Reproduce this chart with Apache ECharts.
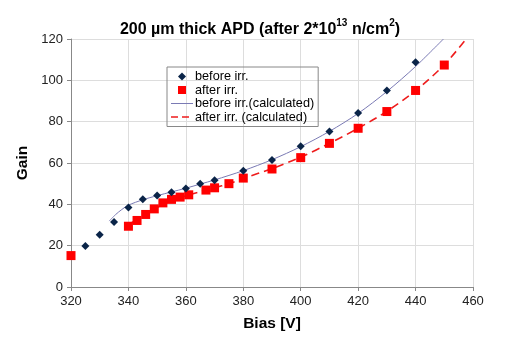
<!DOCTYPE html>
<html>
<head>
<meta charset="utf-8">
<script src="https://cdn.jsdelivr.net/npm/echarts@6/dist/echarts.min.js"></script>
<style>
  html, body { margin: 0; padding: 0; background: #fff; }
  #main { width: 510px; height: 354px; }
</style>
</head>
<body>
<div id="main"></div>
<script>
// measured points
var beforeBias = [325, 330, 335, 340, 345, 350, 355, 360, 365, 370, 380, 390, 400, 410, 420, 430, 440];
var beforeGain = [19.8, 25.3, 31.5, 38.5, 42.4, 44.3, 45.9, 47.7, 49.9, 51.7, 56.3, 61.4, 68.1, 75.3, 84.2, 95.1, 108.8];

var afterBias = [320, 340, 343, 346, 349, 352, 355, 358, 361, 367, 370, 375, 380, 390, 400, 410, 420, 430, 440, 450];
var afterGain = [15.2, 29.4, 32.2, 35.1, 37.8, 40.7, 42.4, 43.5, 44.6, 46.9, 48.0, 50.0, 52.7, 57.1, 62.6, 69.5, 76.8, 84.9, 95.1, 107.4];

// calculated curves
var beforeCalcBias = [333.3, 335.5, 337.7, 340, 345, 350, 355, 360, 365, 370, 380, 390, 400, 410, 420, 430, 440, 449.7];
var beforeCalcGain = [31.9, 35, 37.5, 39.6, 42.2, 44.2, 46, 47.8, 49.8, 51.8, 56.3, 61.6, 67.9, 75.3, 84, 94.6, 106.7, 120];

var afterCalcBias = [341, 345, 350, 355, 360, 365, 370, 375, 380, 390, 400, 410, 420, 430, 440, 450, 457.6];
var afterCalcGain = [31, 34.3, 38.5, 41.8, 44.2, 46.1, 48, 50, 52.5, 57.3, 62.8, 69.5, 76.8, 85, 95, 107.5, 120];

var xTicks = [320, 460, 20];
var yTicks = [0, 120, 20];

function zip(xs, ys) {
    return xs.map(function (x, i) { return [x, ys[i]]; });
}

// legend icons drawn in a 22x9 box (the two corner moves keep the box size)
var box = 'M0,0M22,9';
var iconDiamond = 'path://' + box + 'M11,0.5L15,4.5L11,8.5L7,4.5Z';
var iconSquare = 'path://' + box + 'M7,0.5L15,0.5L15,8.5L7,8.5Z';
var iconLine = 'path://' + box + 'M0,4L22,4L22,5L0,5Z';
var iconDash = 'path://' + box + 'M0,3.7L7,3.7L7,5.3L0,5.3ZM11,3.7L18,3.7L18,5.3L11,5.3Z';

var chart = echarts.init(document.getElementById('main'));
var font = 'Liberation Sans, Arial, sans-serif';

chart.setOption({
    animation: false,
    textStyle: { fontFamily: font },
    title: {
        text: '{t|200 \u00b5m thick APD (after 2*10}{s|13}{t| n/cm}{s|2}{t|)}',
        left: 255,
        textAlign: 'center',
        top: 13,
        textStyle: {
            rich: {
                t: { fontSize: 16, fontWeight: 'bold', color: '#000', fontFamily: font, verticalAlign: 'bottom', lineHeight: 20 },
                s: { fontSize: 10, fontWeight: 'bold', color: '#000', fontFamily: font, verticalAlign: 'top', lineHeight: 20 }
            }
        }
    },
    legend: {
        orient: 'vertical',
        left: 167,
        top: 67,
        padding: [3, 4, 3, 4],
        itemGap: 0.5,
        itemWidth: 22,
        itemHeight: 9,
        borderColor: '#888',
        borderWidth: 1,
        textStyle: { fontSize: 12.7, color: '#000', lineHeight: 11.5, padding: [0, 0, 0, -3] },
        data: [
            { name: 'before irr.', icon: iconDiamond },
            { name: 'after irr.', icon: iconSquare },
            { name: 'before irr.(calculated)', icon: iconLine },
            { name: 'after irr. (calculated)', icon: iconDash }
        ]
    },
    grid: { left: 71, right: 37, top: 39, bottom: 67 },
    xAxis: {
        type: 'value',
        min: xTicks[0], max: xTicks[1], interval: xTicks[2],
        name: 'Bias [V]',
        nameLocation: 'middle',
        nameGap: 29,
        nameTextStyle: { fontSize: 15.5, fontWeight: 'bold', color: '#000' },
        axisLine: { lineStyle: { color: '#888' } },
        axisTick: { show: true, length: 4, lineStyle: { color: '#888' } },
        axisLabel: { fontSize: 13, color: '#222', margin: 8 },
        splitLine: { show: true, lineStyle: { color: '#ddd' } }
    },
    yAxis: {
        type: 'value',
        min: yTicks[0], max: yTicks[1], interval: yTicks[2],
        name: 'Gain',
        nameLocation: 'middle',
        nameGap: 38,
        nameRotate: 90,
        nameTextStyle: { fontSize: 15.5, fontWeight: 'bold', color: '#000' },
        axisLine: { show: true, lineStyle: { color: '#888' } },
        axisTick: { show: true, length: 4, lineStyle: { color: '#888' } },
        axisLabel: { fontSize: 13, color: '#222', margin: 8 },
        splitLine: { show: true, lineStyle: { color: '#ddd' } }
    },
    series: [{
        name: 'before irr.',
        type: 'scatter',
        symbol: 'diamond',
        symbolSize: 8,
        itemStyle: { color: '#0a2448', opacity: 1 },
        data: zip(beforeBias, beforeGain),
        z: 4
    }, {
        name: 'after irr.',
        type: 'scatter',
        symbol: 'rect',
        symbolSize: 9,
        itemStyle: { color: '#ff0000', opacity: 1 },
        data: zip(afterBias, afterGain),
        z: 3
    }, {
        name: 'before irr.(calculated)',
        type: 'line',
        smooth: 0.3,
        symbol: 'none',
        lineStyle: { color: '#7a7ab4', width: 1 },
        itemStyle: { color: '#7a7ab4' },
        data: zip(beforeCalcBias, beforeCalcGain),
        z: 2
    }, {
        name: 'after irr. (calculated)',
        type: 'line',
        smooth: 0.3,
        symbol: 'none',
        lineStyle: { color: '#ee1c1c', width: 1.6, type: [8, 5] },
        itemStyle: { color: '#ee1c1c' },
        data: zip(afterCalcBias, afterCalcGain),
        z: 2
    }]
});
</script>
</body>
</html>
